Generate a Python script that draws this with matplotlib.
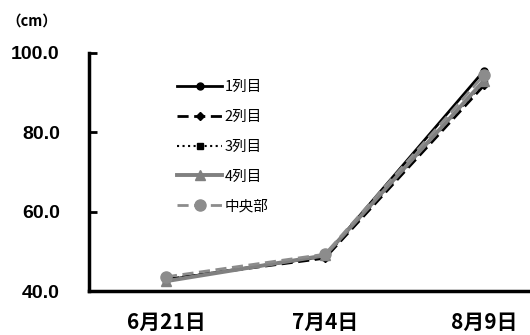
import matplotlib
matplotlib.use("Agg")
import matplotlib.pyplot as plt

plt.rcParams["font.family"] = ["Noto Sans CJK JP", "DejaVu Sans"]

dates = ["6月21日", "7月4日", "8月9日"]
series_names = ["1列目", "2列目", "3列目", "4列目", "中央部"]
row1 = [42.8, 48.8, 95.5]
row2 = [43.0, 48.3, 91.8]
row3 = [43.0, 48.6, 92.5]
row4 = [42.5, 49.0, 93.0]
center = [43.6, 49.3, 94.4]
y_ticks = [40.0, 60.0, 80.0, 100.0]

styles = [
    dict(color="black", linestyle="-", marker="o", markersize=5, linewidth=2.0),
    dict(color="black", linestyle=(0, (4, 2)), marker="D", markersize=4.5, linewidth=2.0),
    dict(color="black", linestyle=":", marker="s", markersize=5, linewidth=1.5),
    dict(color="#808080", linestyle="-", marker="^", markersize=7, linewidth=2.8),
    dict(color="#8c8c8c", linestyle=(0, (4, 2)), marker="o", markersize=8, linewidth=2.0),
]

fig = plt.figure(figsize=(5.3, 3.35), dpi=100)
ax = fig.add_axes([0.168, 0.131, 0.832, 0.711])

x = range(len(dates))
for name, vals, st in zip(series_names, [row1, row2, row3, row4, center], styles):
    ax.plot(x, vals, label=name, clip_on=False, **st)

ax.set_xlim(-0.484, 2.29)
ax.set_ylim(40, 100)
ax.set_yticks(y_ticks)
ax.set_yticklabels([f"{v:.1f}" for v in y_ticks], fontsize=14, fontweight="bold",
                   family=["Liberation Sans"])
ax.set_xticks(list(x))
ax.set_xticklabels(dates, fontsize=15, fontweight="bold")
ax.tick_params(axis="x", length=0, pad=15)
ax.tick_params(axis="y", length=6, width=2, direction="in", pad=21)

for side in ("top", "right"):
    ax.spines[side].set_visible(False)
for side in ("left", "bottom"):
    ax.spines[side].set_linewidth(2.5)

fig.text(0.012, 0.94, "（cm）", fontsize=10.5, fontweight="bold", ha="left", va="center")

ax.legend(loc="upper left", bbox_to_anchor=(0.17, 0.94), frameon=False, fontsize=10.5,
          handlelength=3.1, handletextpad=0.15, labelspacing=1.08)

fig.savefig("out.png", dpi=100)
